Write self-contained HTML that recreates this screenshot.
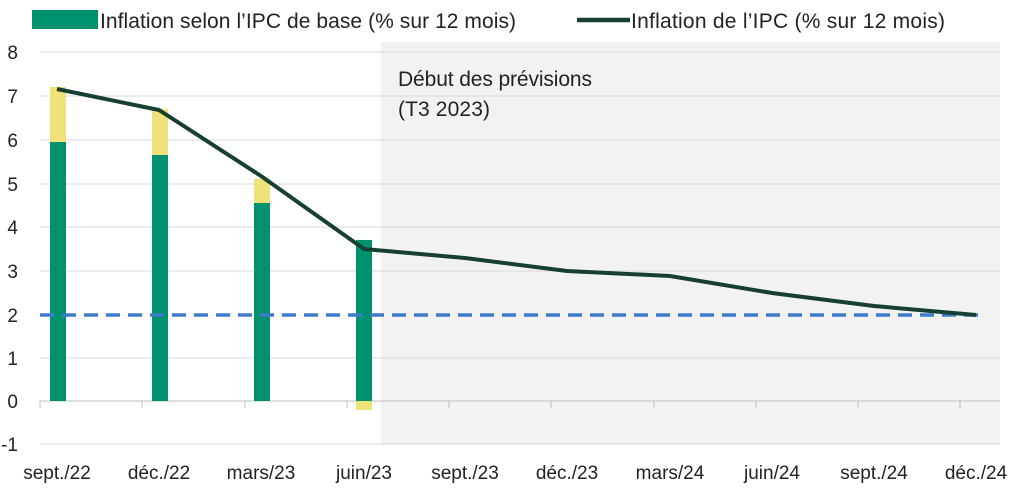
<!DOCTYPE html>
<html><head><meta charset="utf-8"><style>
body{margin:0;background:#fff;}
svg{display:block;font-family:"Liberation Sans",sans-serif;}
</style></head><body>
<svg width="1015" height="492" xmlns="http://www.w3.org/2000/svg">
<rect x="381" y="42" width="619" height="402" fill="#f2f2f2"/>
<g stroke="#d9d9d9" stroke-width="1">
<line x1="40" x2="1000" y1="52" y2="52"/>
<line x1="40" x2="1000" y1="96" y2="96"/>
<line x1="40" x2="1000" y1="140" y2="140"/>
<line x1="40" x2="1000" y1="184" y2="184"/>
<line x1="40" x2="1000" y1="227" y2="227"/>
<line x1="40" x2="1000" y1="271" y2="271"/>
<line x1="40" x2="1000" y1="358" y2="358"/>
<line x1="40" x2="1000" y1="444" y2="444"/>
</g>
<line x1="40" x2="1000" y1="401" y2="401" stroke="#bfbfbf"/>
<g stroke="#bfbfbf">
<line x1="40" x2="40" y1="401" y2="408"/><line x1="142" x2="142" y1="401" y2="408"/><line x1="245" x2="245" y1="401" y2="408"/><line x1="347" x2="347" y1="401" y2="408"/><line x1="449" x2="449" y1="401" y2="408"/><line x1="551" x2="551" y1="401" y2="408"/><line x1="654" x2="654" y1="401" y2="408"/><line x1="756" x2="756" y1="401" y2="408"/><line x1="858" x2="858" y1="401" y2="408"/><line x1="960" x2="960" y1="401" y2="408"/>
</g>
<g fill="#f0e27a">
<rect x="50" y="87" width="16" height="55"/>
<rect x="152" y="109" width="16" height="46"/>
<rect x="254" y="179" width="16" height="24"/>
<rect x="356" y="401" width="16" height="9"/>
</g>
<g fill="#00916e">
<rect x="50" y="142" width="16" height="259"/>
<rect x="152" y="155" width="16" height="246"/>
<rect x="254" y="203" width="16" height="198"/>
<rect x="356" y="240" width="16" height="161"/>
</g>
<line x1="40" x2="980" y1="315" y2="315" stroke="#3d7cc9" stroke-width="3.5" stroke-dasharray="14,8"/>
<polyline fill="none" stroke="#173f32" stroke-width="4" stroke-linejoin="round" points="57,89 159,110 261,176 364,249 465,258 567,271 670,276 772,293 874,306 976,315"/>
<g font-size="19" fill="#222" text-anchor="end">
<text x="18" y="59">8</text><text x="18" y="103">7</text><text x="18" y="147">6</text><text x="18" y="191">5</text><text x="18" y="234">4</text><text x="18" y="278">3</text><text x="18" y="322">2</text><text x="18" y="365">1</text><text x="18" y="408">0</text><text x="18" y="451">-1</text>
</g>
<g font-size="19" fill="#222" text-anchor="middle">
<text x="57" y="479">sept./22</text><text x="159" y="479">déc./22</text><text x="261" y="479">mars/23</text><text x="364" y="479">juin/23</text><text x="465" y="479">sept./23</text><text x="567" y="479">déc./23</text><text x="670" y="479">mars/24</text><text x="772" y="479">juin/24</text><text x="874" y="479">sept./24</text><text x="976" y="479">déc./24</text>
</g>
<text x="398" y="86" font-size="21" fill="#222" textLength="194">Début des prévisions</text>
<text x="398" y="116" font-size="21" fill="#222" textLength="92">(T3 2023)</text>
<rect x="32" y="10" width="66" height="19" fill="#00916e"/>
<text x="100" y="28" font-size="21" fill="#222" textLength="416">Inflation selon l’IPC de base (% sur 12 mois)</text>
<line x1="577" x2="630" y1="20" y2="20" stroke="#173f32" stroke-width="4.5"/>
<text x="631" y="28" font-size="21" fill="#222" textLength="314">Inflation de l’IPC (% sur 12 mois)</text>
</svg>
</body></html>
